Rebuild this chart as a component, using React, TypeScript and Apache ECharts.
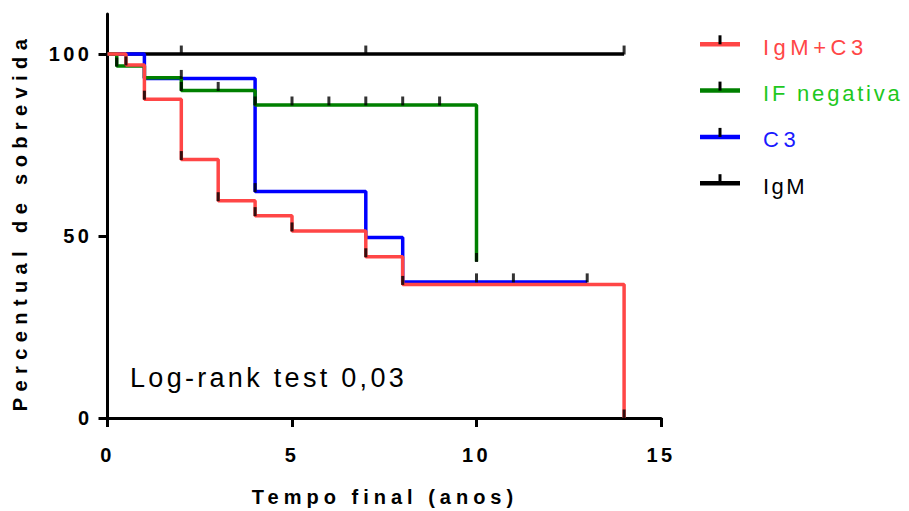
import React, { useEffect, useRef } from "react";
import * as echarts from "echarts";

// Legend / series names and colours
const seriesNames = ["IgM+C3", "IF negativa", "C3", "IgM"];
const lineColors = ["#FF4646", "#008000", "#0000FF", "#000000"];
const textColors = ["#FF4646", "#1EC81E", "#1A1AFF", "#000000"];

// Kaplan-Meier steps: [tempo (anos), % sobrevida]
const igmC3Steps = [[0, 100], [0.5, 97], [1, 87.6], [2, 71], [3, 59.7], [4, 55.6], [5, 51.4], [7, 44.3], [8, 36.7], [14, 0]];
const igmC3Censored = [[0.5, 97], [1, 87.6], [2, 71], [3, 59.7], [4, 55.6], [5, 51.4], [7, 44.3], [8, 36.7], [14, 0]];

const ifNegSteps = [[0, 100], [0.25, 96.7], [1, 93.5], [2, 90], [4, 86], [10, 43]];
const ifNegCensored = [[0.25, 96.7], [2, 90], [3, 90], [4, 86], [5, 86], [6, 86], [7, 86], [8, 86], [9, 86], [10, 43]];

const c3Steps = [[0, 100], [1, 93.3], [4, 62.2], [7, 49.6], [8, 37.4], [13, 37.4]];
const c3Censored = [[2, 93.3], [4, 62.2], [10, 37.4], [11, 37.4], [13, 37.4]];

const igmSteps = [[0, 100], [14, 100]];
const igmCensored = [[2, 100], [7, 100], [14, 100]];

const xTicks = [0, 5, 10, 15];
const yTicks = [0, 50, 100];

const xTitle = "Tempo final (anos)";
const yTitle = "Percentual de sobrevida";
const annotation = "Log-rank test 0,03";

const FONT = "'Liberation Sans', Arial, Helvetica, sans-serif";

export default function App() {
  const ref = useRef<HTMLDivElement>(null);

  useEffect(() => {
    if (!ref.current) return;
    const chart = echarts.init(ref.current, null, { renderer: "svg" });

    const stepsList = [igmC3Steps, ifNegSteps, c3Steps, igmSteps];
    const censList = [igmC3Censored, ifNegCensored, c3Censored, igmCensored];
    const drawOrder = [3, 2, 1, 0];

    const lineSeries = drawOrder.map((i) => ({
      type: "line",
      name: seriesNames[i],
      data: stepsList[i],
      step: "end",
      symbol: "none",
      showSymbol: false,
      silent: true,
      lineStyle: { color: lineColors[i], width: 3.5 },
      z: 2,
    }));
    const tickSeries = drawOrder.map((i) => ({
      type: "scatter",
      name: seriesNames[i] + " censurado",
      data: censList[i],
      symbol: "rect",
      symbolSize: [3, 9],
      symbolOffset: [0, -4],
      silent: true,
      itemStyle: { color: "#000000" },
      z: 4,
    }));

    const legendGraphics: any[] = [];
    seriesNames.forEach((name, i) => {
      const ly = 44.3 + i * 46.3;
      legendGraphics.push({
        type: "line",
        shape: { x1: 700, y1: ly, x2: 740, y2: ly },
        style: { stroke: lineColors[i], lineWidth: 4.5 },
      });
      legendGraphics.push({
        type: "rect",
        shape: { x: 718.5, y: ly - 9, width: 3, height: 9 },
        style: { fill: "#000000" },
      });
      legendGraphics.push({
        type: "text",
        x: 763,
        y: ly + 3,
        style: {
          text: name,
          fill: textColors[i],
          font: `22px ${FONT}`,
          align: "left",
          verticalAlign: "middle",
        },
      });
    });

    chart.setOption({
      animation: false,
      backgroundColor: "#ffffff",
      grid: { left: 107.5, right: 248, top: 14, bottom: 93, containLabel: false },
      xAxis: {
        type: "value",
        min: 0,
        max: 15,
        interval: 5,
        axisLine: { show: true, onZero: false, lineStyle: { color: "#000", width: 3 } },
        axisTick: { show: true, length: 9, lineStyle: { color: "#000", width: 3 }, customValues: xTicks },
        axisLabel: {
          customValues: xTicks,
          margin: 27,
          color: "#000",
          fontSize: 20,
          fontWeight: "bold",
          fontFamily: FONT,
        },
        splitLine: { show: false },
      },
      yAxis: {
        type: "value",
        min: 0,
        max: 111,
        interval: 50,
        axisLine: { show: true, onZero: false, lineStyle: { color: "#000", width: 3 } },
        axisTick: { show: true, length: 9, lineStyle: { color: "#000", width: 3 }, customValues: yTicks },
        axisLabel: {
          customValues: yTicks,
          formatter: (v: number) => (v % 50 === 0 ? String(v) : ""),
          margin: 15,
          color: "#000",
          fontSize: 20,
          fontWeight: "bold",
          fontFamily: FONT,
        },
        splitLine: { show: false },
      },
      series: [...lineSeries, ...tickSeries],
      graphic: [
        {
          type: "text",
          x: 20,
          y: 222,
          rotation: Math.PI / 2,
          style: {
            text: yTitle,
            fill: "#000",
            font: `bold 20px ${FONT}`,
            align: "center",
            verticalAlign: "middle",
          },
        },
        {
          type: "text",
          x: 385,
          y: 497,
          style: {
            text: xTitle,
            fill: "#000",
            font: `bold 20px ${FONT}`,
            align: "center",
            verticalAlign: "middle",
          },
        },
        {
          type: "text",
          x: 130,
          y: 378,
          style: {
            text: annotation,
            fill: "#000",
            font: `27px ${FONT}`,
            align: "left",
            verticalAlign: "middle",
          },
        },
        ...legendGraphics,
      ],
    });

    // Letter spacing, as in the original figure
    const spacing: Record<string, number> = {
      [yTitle]: 6.4,
      [xTitle]: 5,
      [annotation]: 3.3,
      "0": 3.5,
      "5": 3.5,
      "10": 3.5,
      "15": 3.5,
      "50": 3.5,
      "100": 3.5,
      "IgM+C3": 4.5,
      "IF negativa": 2.8,
      "C3": 4.5,
      "IgM": 2.5,
    };
    ref.current.querySelectorAll("text").forEach((t) => {
      const s = (t.textContent || "").trim();
      if (spacing[s] !== undefined) t.setAttribute("letter-spacing", String(spacing[s]));
    });

    return () => chart.dispose();
  }, []);

  return (
    <div
      ref={ref}
      style={{ position: "fixed", left: 0, top: 0, width: 909, height: 511, background: "#fff" }}
    />
  );
}
